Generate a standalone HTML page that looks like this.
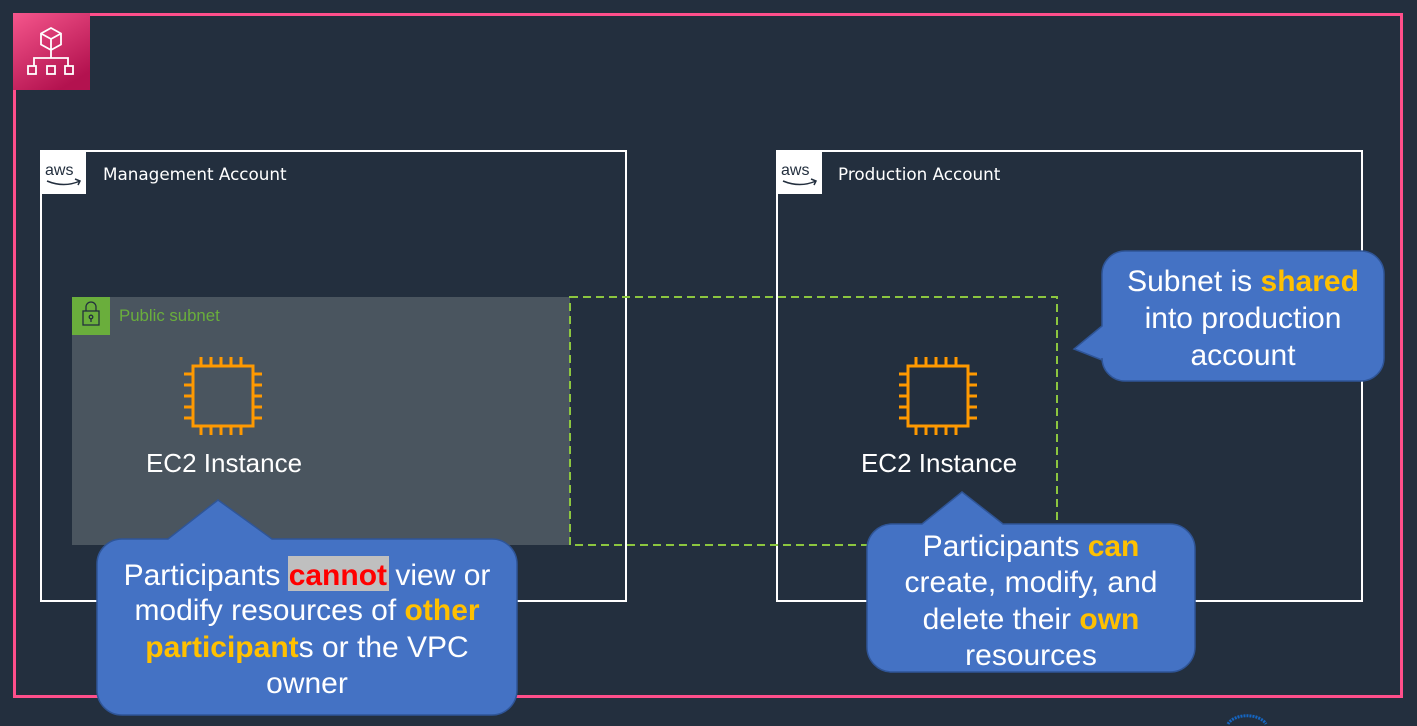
<!DOCTYPE html>
<html><head><meta charset="utf-8"><style>
html,body{margin:0;padding:0;background:#232F3E;}
svg{display:block;}
text{font-family:"Liberation Sans",Arial,sans-serif;}
.lbl{font-family:"DejaVu Sans","Liberation Sans",sans-serif;font-size:16.8px;fill:#fff;}
.ct{font-size:30px;fill:#fff;text-anchor:middle;}
.y{fill:#FFC000;font-weight:bold;}
</style></head><body>
<svg width="1417" height="726" viewBox="0 0 1417 726" xmlns="http://www.w3.org/2000/svg">
<defs>
<linearGradient id="pg" x1="0" y1="0" x2="0.6" y2="1">
<stop offset="0" stop-color="#F5568C"/><stop offset="1" stop-color="#B3124F"/></linearGradient>
</defs>
<rect width="1417" height="726" fill="#232F3E"/>
<rect x="14.5" y="14.5" width="1387" height="682" fill="none" stroke="#FF4F8B" stroke-width="3"/>
<rect x="13" y="13" width="77" height="77" fill="url(#pg)"/>
<g fill="none" stroke="#fff" stroke-width="1.8">
<path d="M51 28 l10 5.5 v11 l-10 5.5 l-10 -5.5 v-11 z M41 33.5 l10 5.5 l10 -5.5 M51 39 v11"/>
<path d="M51 50 v8 M34 66 v-8 h34 v8"/>
<rect x="28" y="66" width="8" height="8"/><rect x="47" y="66" width="8" height="8"/><rect x="65" y="66" width="8" height="8"/>
</g>
<rect x="41" y="151" width="585" height="450" fill="none" stroke="#fff" stroke-width="2"/>
<rect x="777" y="151" width="585" height="450" fill="none" stroke="#fff" stroke-width="2"/>
<rect x="41" y="150" width="45" height="44" fill="#fff"/>
<rect x="777" y="150" width="45" height="44" fill="#fff"/>
<g font-family="DejaVu Sans,sans-serif" font-size="16" fill="#232F3E">
<text x="45" y="175">aws</text><text x="781" y="175">aws</text></g>
<path d="M47 181 q17 7 33 0 M75 179 l5 2 l-2 4" stroke="#232F3E" stroke-width="1.5" fill="none"/>
<path d="M783 181 q17 7 33 0 M811 179 l5 2 l-2 4" stroke="#232F3E" stroke-width="1.5" fill="none"/>
<text class="lbl" x="103" y="180">Management Account</text>
<text class="lbl" x="838" y="180">Production Account</text>
<rect x="72" y="297" width="498" height="248" fill="#4A555F"/>
<rect x="72" y="297" width="38" height="38" fill="#6AAE3C"/>
<g fill="none" stroke="#232F3E" stroke-width="1.3">
<rect x="83" y="311" width="16" height="14"/><path d="M86 311 v-4 a5 5 0 0 1 10 0 v4"/>
<circle cx="91" cy="317" r="1.8"/><path d="M91 319 v3"/></g>
<text x="119" y="321" font-family="DejaVu Sans,sans-serif" font-size="16.8" fill="#6AAE3C">Public subnet</text>
<rect x="570" y="297" width="487" height="248" fill="none" stroke="#8CC63F" stroke-width="2" stroke-dasharray="8,5"/>
<g id="ec2" fill="none" stroke="#FF9900" stroke-width="3">
<rect x="193" y="366" width="60" height="60"/>
<path d="M201 366v-9M211 366v-9M221 366v-9M231 366v-9M241 366v-9 M201 426v9M211 426v9M221 426v9M231 426v9M241 426v9 M193 374h-9M193 385h-9M193 396h-9M193 407h-9M193 418h-9 M253 374h9M253 385h9M253 396h9M253 407h9M253 418h9"/>
</g>
<use href="#ec2" transform="translate(715,0)"/>
<text x="224" y="472" font-family="DejaVu Sans,sans-serif" font-size="26" fill="#fff" text-anchor="middle">EC2 Instance</text>
<text x="939" y="472" font-family="DejaVu Sans,sans-serif" font-size="26" fill="#fff" text-anchor="middle">EC2 Instance</text>
<g fill="#4472C4" stroke="#2F5597" stroke-width="1.5">
<path d="M122 539 H168 L218 500 L272 539 H492 a25 25 0 0 1 25 25 V690 a25 25 0 0 1 -25 25 H122 a25 25 0 0 1 -25 -25 V564 a25 25 0 0 1 25 -25 z"/>
<path d="M892 524 H922 L962 492 L1003 524 H1170 a25 25 0 0 1 25 25 V647 a25 25 0 0 1 -25 25 H892 a25 25 0 0 1 -25 -25 V549 a25 25 0 0 1 25 -25 z"/>
<path d="M1125 251 H1361 a23 23 0 0 1 23 23 V358 a23 23 0 0 1 -23 23 H1125 a23 23 0 0 1 -23 -23 V360 L1074 349 L1102 326 V274 a23 23 0 0 1 23 -23 z"/>
</g>
<rect x="288" y="556" width="101" height="35" fill="#BFBFBF"/>
<text class="ct" x="307" y="585">Participants <tspan fill="#FF0000" font-weight="bold">cannot</tspan> view or</text>
<text class="ct" x="307" y="620">modify resources of <tspan class="y">other</tspan></text>
<text class="ct" x="307" y="657"><tspan class="y">participant</tspan>s or the VPC</text>
<text class="ct" x="307" y="693">owner</text>
<text class="ct" x="1031" y="556">Participants <tspan class="y">can</tspan></text>
<text class="ct" x="1031" y="592">create, modify, and</text>
<text class="ct" x="1031" y="629">delete their <tspan class="y">own</tspan></text>
<text class="ct" x="1031" y="665">resources</text>
<text class="ct" x="1243" y="291">Subnet is <tspan class="y">shared</tspan></text>
<text class="ct" x="1243" y="328">into production</text>
<text class="ct" x="1243" y="365">account</text>
<path d="M1228 724 a20 12 0 0 1 38 0" stroke="#1565C0" stroke-width="3" fill="none" stroke-dasharray="2,1"/>
</svg>
</body></html>
